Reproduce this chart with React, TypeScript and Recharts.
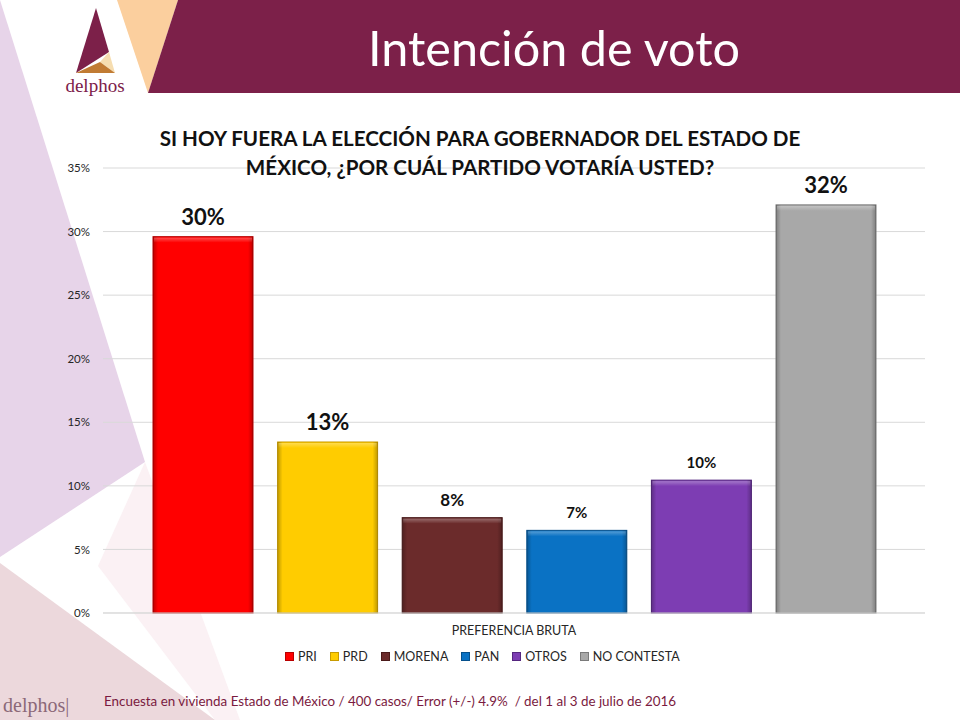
import React from 'react';
import {
  BarChart,
  Bar,
  XAxis,
  YAxis,
  CartesianGrid,
  Legend,
  LabelList,
} from 'recharts';

// Poll: "Si hoy fuera la elección para gobernador..." (preferencia bruta)
const categories = ['PREFERENCIA BRUTA'];
const parties = ['PRI', 'PRD', 'MORENA', 'PAN', 'OTROS', 'NO CONTESTA'];
const shares = [29.6, 13.45, 7.5, 6.5, 10.45, 32.1];
const partyColors = ['#FF0000', '#FFCC00', '#6B2B2B', '#0A72C4', '#7D3DB3', '#A8A8A8'];
const partyEdges = ['#B80000', '#C89B00', '#4A1A1A', '#05508C', '#55267F', '#7A7A7A'];
const labelSizes = [22, 22, 17, 15, 15, 22];
const yTicks = [0, 5, 10, 15, 20, 25, 30, 35];

const FONT = 'Lato, "Open Sans", "Liberation Sans", sans-serif';
const MAROON = '#7C2049';

const chartData = categories.map((name) => {
  const row: Record<string, string | number> = { name };
  parties.forEach((p, i) => {
    row[p] = shares[i];
  });
  return row;
});

function BevelBar(props: any) {
  const { x, y, width, height, fill, edge } = props;
  if (!height || height <= 0) return null;
  return (
    <g>
      <rect x={x} y={y} width={width} height={height} fill={fill} stroke={edge} strokeWidth={1} />
      <rect x={x} y={y} width={width} height={height} fill="url(#barSideShade)" />
      <rect x={x + 1} y={y + 1} width={width - 2} height={5} fill="url(#barTopShade)" />
    </g>
  );
}

function makeLabel(fontSize: number) {
  return (props: any) => {
    const { x, y, width, value } = props;
    return (
      <text
        x={x + width / 2}
        y={y - 12}
        textAnchor="middle"
        fontFamily={FONT}
        fontWeight={700}
        fontSize={fontSize}
        fill="#111111"
      >
        {`${Math.round(value)}%`}
      </text>
    );
  };
}

function PartyLegend() {
  return (
    <div style={{ display: 'flex', alignItems: 'center', fontFamily: FONT, fontSize: 12.5, color: '#262626' }}>
      {parties.map((p, i) => (
        <div key={p} style={{ display: 'flex', alignItems: 'center', marginRight: 13 }}>
          <span
            style={{
              display: 'inline-block',
              width: 7,
              height: 7,
              background: partyColors[i],
              border: `1px solid ${partyEdges[i]}`,
              marginRight: 4,
            }}
          />
          <span>{p}</span>
        </div>
      ))}
    </div>
  );
}

function Backdrop() {
  return (
    <svg width={960} height={720} style={{ position: 'absolute', left: 0, top: 0 }}>
      {/* decorative shapes on the left side */}
      <polygon points="0,0 145,462 0,557" fill="#E7D4E9" />
      <polygon points="145,462 98,566 215,720 240,720" fill="#FBF1F4" />
      <polygon points="0,563 215,720 0,720" fill="#ECD8DC" />
      {/* header band */}
      <polygon points="117,0 178,0 148,93" fill="#FBCF9E" />
      <polygon points="178,0 960,0 960,93 148,93" fill={MAROON} />
      {/* logo */}
      <polygon points="96,8 109,52 76,73" fill={MAROON} />
      <polygon points="109,52 115,73 100,62" fill="#F6DDB0" />
      <polygon points="76,73 100,62 115,73" fill="#C17B33" />
      <text x={95} y={92} textAnchor="middle" fontFamily='"Liberation Serif", "DejaVu Serif", serif' fontSize={19} fill={MAROON}>
        delphos
      </text>
      <text x={554} y={66} textAnchor="middle" fontFamily={FONT} fontSize={48.5} fill="#ffffff">
        Intención de voto
      </text>
      {/* footer */}
      <text x={3} y={712} fontFamily='"Liberation Serif", "DejaVu Serif", serif' fontSize={20} fill="#8B6878">
        delphos|
      </text>
    </svg>
  );
}

export default function App() {
  return (
    <div style={{ position: 'absolute', left: 0, top: 0, width: 960, height: 720, background: '#ffffff', overflow: 'hidden' }}>
      <Backdrop />
      <div style={{ position: 'absolute', left: 0, top: 0 }}>
        <BarChart
          width={960}
          height={720}
          data={chartData}
          margin={{ top: 168, right: 35, left: 43, bottom: 77 }}
          barSize={100}
          barGap={24.6}
        >
          <defs>
            <linearGradient id="barSideShade" x1="0" y1="0" x2="1" y2="0">
              <stop offset="0" stopColor="#000000" stopOpacity={0.25} />
              <stop offset="0.05" stopColor="#000000" stopOpacity={0} />
              <stop offset="0.95" stopColor="#000000" stopOpacity={0} />
              <stop offset="1" stopColor="#000000" stopOpacity={0.25} />
            </linearGradient>
            <linearGradient id="barTopShade" x1="0" y1="0" x2="0" y2="1">
              <stop offset="0" stopColor="#ffffff" stopOpacity={0.3} />
              <stop offset="1" stopColor="#ffffff" stopOpacity={0} />
            </linearGradient>
          </defs>
          <CartesianGrid vertical={false} stroke="#D9D9D9" />
          <XAxis
            dataKey="name"
            axisLine={{ stroke: '#D9D9D9' }}
            tickLine={false}
            height={30}
            tickMargin={7}
            tick={{ fontFamily: FONT, fontSize: 12.5, fill: '#262626' }}
          />
          <YAxis
            width={60}
            domain={[0, 35]}
            ticks={yTicks}
            axisLine={false}
            tickLine={false}
            tickMargin={7}
            tickFormatter={(v) => `${v}%`}
            tick={{ fontFamily: FONT, fontSize: 11.5, fill: '#262626' }}
          />
          <Legend
            content={() => <PartyLegend />}
            wrapperStyle={{ position: 'absolute', left: 285, top: 649, width: 520, height: 0 }}
          />
          {parties.map((p, i) => (
            <Bar
              key={p}
              dataKey={p}
              fill={partyColors[i]}
              isAnimationActive={false}
              shape={(sp: any) => <BevelBar {...sp} fill={partyColors[i]} edge={partyEdges[i]} />}
            >
              <LabelList dataKey={p} content={makeLabel(labelSizes[i])} />
            </Bar>
          ))}
        </BarChart>
      </div>
      <div
        style={{
          position: 'absolute',
          left: 140,
          top: 124,
          width: 680,
          textAlign: 'center',
          fontFamily: FONT,
          fontWeight: 700,
          fontSize: 20.6,
          lineHeight: '29px',
          color: '#111111',
        }}
      >
        SI HOY FUERA LA ELECCIÓN PARA GOBERNADOR DEL ESTADO DE
        <br />
        MÉXICO, ¿POR CUÁL PARTIDO VOTARÍA USTED?
      </div>
      <div
        style={{
          position: 'absolute',
          left: 104,
          top: 693,
          fontFamily: FONT,
          fontSize: 13.4,
          color: '#7A1A40',
          whiteSpace: 'pre',
        }}
      >
        {'Encuesta en vivienda Estado de México / 400 casos/ Error (+/-) 4.9%  / del 1 al 3 de julio de 2016'}
      </div>
    </div>
  );
}
